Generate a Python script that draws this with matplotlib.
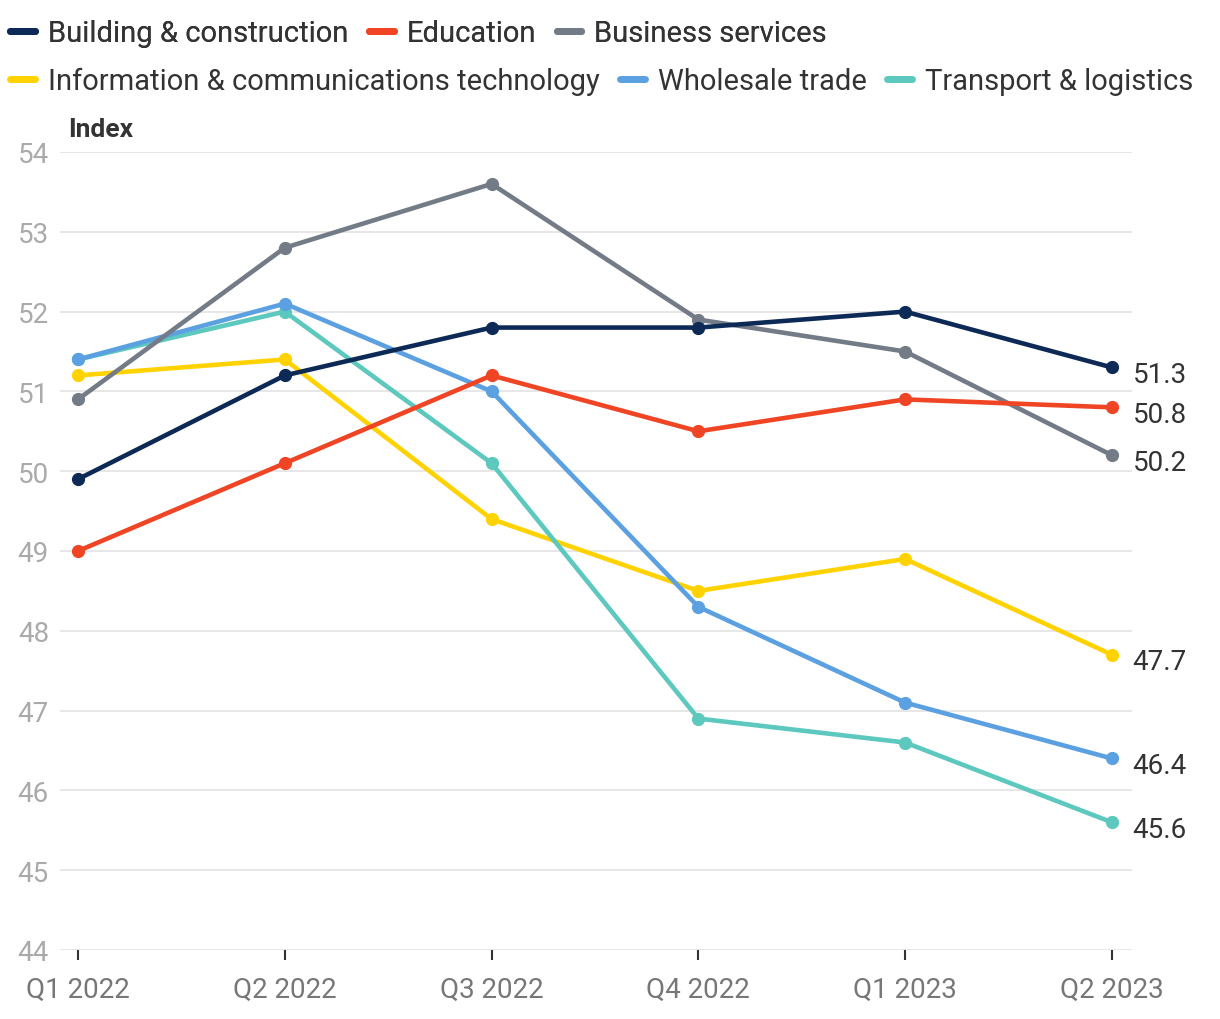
import matplotlib
matplotlib.use("Agg")
import matplotlib.pyplot as plt
from matplotlib.lines import Line2D
import matplotlib.transforms as mtransforms

quarters = ["Q1 2022", "Q2 2022", "Q3 2022", "Q4 2022", "Q1 2023", "Q2 2023"]
building = [49.9, 51.2, 51.8, 51.8, 52.0, 51.3]
education = [49.0, 50.1, 51.2, 50.5, 50.9, 50.8]
business = [50.9, 52.8, 53.6, 51.9, 51.5, 50.2]
ict = [51.2, 51.4, 49.4, 48.5, 48.9, 47.7]
wholesale = [51.4, 52.1, 51.0, 48.3, 47.1, 46.4]
transport = [51.4, 52.0, 50.1, 46.9, 46.6, 45.6]

series = [
    ("Building & construction", building, "#0d2a57"),
    ("Education", education, "#f04524"),
    ("Business services", business, "#737b86"),
    ("Information & communications technology", ict, "#ffd200"),
    ("Wholesale trade", wholesale, "#5ba0e0"),
    ("Transport & logistics", transport, "#5cc8be"),
]
draw_order = [3, 5, 4, 2, 1, 0]

plt.rcParams['font.family'] = ['Roboto', 'DejaVu Sans']

fig = plt.figure(figsize=(12.2, 10.2), dpi=100)
ax = fig.add_axes([60/1220, 69/1020, (1132-60)/1220, (951-153)/1020])

x = list(range(len(quarters)))
label_offset = mtransforms.offset_copy(ax.transData, fig=fig, x=0, y=-5, units='points')
for i in draw_order:
    name, vals, col = series[i]
    ax.plot(x, vals, color=col, lw=3.3, marker='o', markersize=8.5, clip_on=False, zorder=3)
    ax.text(x[-1] + 0.1, vals[-1], f"{vals[-1]:.1f}", va='center', ha='left',
            fontsize=20, color='#333333', transform=label_offset)

ax.set_ylim(44, 54)
ax.set_xlim(-0.087, 5.097)
ax.set_yticks(range(44, 55))
ax.set_xticks(x)
ax.set_xticklabels(quarters)
ax.grid(axis='y', color='#e3e3e3', lw=1.2)
ax.set_axisbelow(True)
for s in ax.spines.values():
    s.set_visible(False)
ax.tick_params(axis='y', length=0, labelsize=20, labelcolor='#aaaaaa', pad=8)
ax.tick_params(axis='x', length=7, width=1.5, color='#333333', labelsize=20,
               labelcolor='#777777', pad=12)

fig.text(68/1220, 1 - 130/1020, "Index", fontsize=19, fontweight='bold',
         color='#333333', va='center', ha='left')

def handles(idx):
    return [Line2D([0], [0], color=series[i][2], lw=5, solid_capstyle='round') for i in idx]

common = dict(ncol=3, loc='center left', frameon=False, fontsize=21, handlelength=0.85,
              handletextpad=0.45, columnspacing=0.7, borderaxespad=0, borderpad=0.0)
leg1 = fig.legend(handles([0, 1, 2]), [series[i][0] for i in [0, 1, 2]],
                  bbox_to_anchor=(10/1220, 1 - 34/1020), **common)
for t in leg1.get_texts():
    t.set_color('#333333')
leg2 = fig.legend(handles([3, 4, 5]), [series[i][0] for i in [3, 4, 5]],
                  bbox_to_anchor=(10/1220, 1 - 82/1020), **common)
for t in leg2.get_texts():
    t.set_color('#333333')
fig.add_artist(leg1)

fig.savefig("out.png", dpi=100, facecolor='white')
